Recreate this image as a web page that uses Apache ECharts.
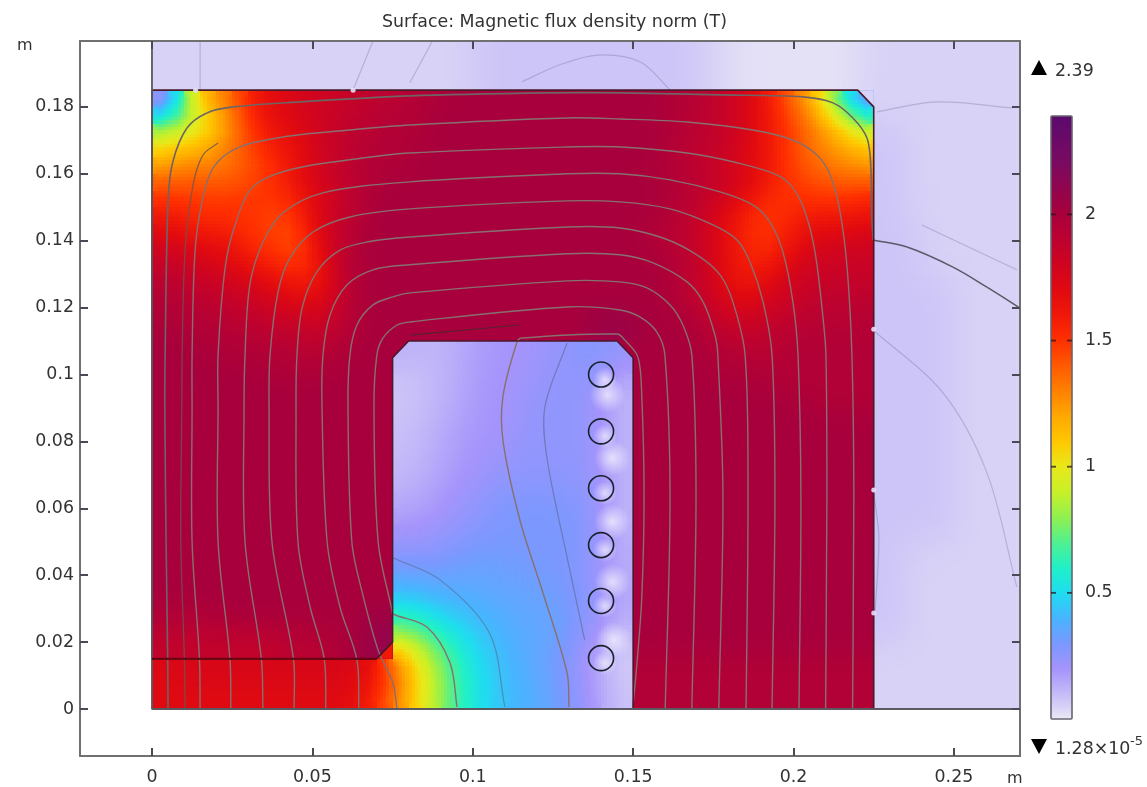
<!DOCTYPE html>
<html><head><meta charset="utf-8"><style>html,body{margin:0;background:#fff}#c{width:1147px;height:787px}</style>
<script src="https://cdn.jsdelivr.net/npm/echarts@6/dist/echarts.min.js"></script></head><body><div id="c"></div><script>
const titleText='Surface: Magnetic flux density norm (T)';
const xTicks=[0,0.05,0.1,0.15,0.2,0.25];
const yTicks=[0,0.02,0.04,0.06,0.08,0.1,0.12,0.14,0.16,0.18];
const barTicks=[0.5,1,1.5,2];
const fieldMax=2.39;
const cellSize=0.005;
// value of each letter in fieldRows (T)
const levelChars='abcdefghijklmnopqrstuvwxyzABCDEFGH';
const levelValues=[.02,.05,.08,.12,.16,.2,.25,.3,.35,.4,.45,.5,.55,.6,.65,.7,.8,.9,1,1.1,1.2,1.3,1.4,1.5,1.6,1.7,1.8,1.85,1.9,1.95,2,2.05,2.1,2.2];
// Field: 5 mm cells, top row first (y 0.195-0.2), x from 0
const fieldRows=[
"bbbbbbbbbbbbbbb bbbbbcccccccccc ccccbbaaaaaaaab bbbbbbbbbb",
"bbbbbbbbbbbbbbb bbbbbcccccccccc ccccbbaaaaaaaab bbbbbbbbbb",
"bbbbbbbbbbbbbbb bbbbbcccccccccc ccccbbaaaaaaaab bbbbbbbbbb",
"citvvxyzzAAABBC CDDEEEEEEEEEEEE EEDDCBAzywutpjd bbbbbbbbbb",
"jnqsuwyzzAABCCD DDEEEEEEEEEEEEE EEDDCBAzyxwusql bbbbbbbbbb",
"rsstuwxyzzABCCD DDEEEEEEEEEEEEE EEDCCBAzyxwvutr ccbbbbbbbb",
"sttuvwxyyzABCDD DEEEEEEEEEEEEEE EEDCCBAzyxwvuut ccbbbbbbbb",
"uvvvvwwxyzABCDD DEEEEEEEEEEEEEE EDDCBAzzyxwwvvu ccbbbbbbbb",
"wwwwwwxxyzABCDE EEEEEEEEEEEEEEE EEDDCBAzyxxwwww ccbbbbbbbb",
"xxxxxxxxxyzACDE EEEEEEEEEEEEEEE EEDCBAzyxxxxxxy ccbbbbbbbb",
"yyxxxxxwxyABCEE EEEEEEEEEEEEEEE EDDCBzyxxxyyyyy ccbbbbbbbb",
"zzyyyxxxwxzBCEE EEEEEEEEEEEEEEE EDCBAzyxxyyzzzA cccbbbbbbb",
"AAzzzyxxwxzBDEE EEEEEEEEEEEEEEE EDDCAzyxxyzAAAA cccbbbbbbb",
"BBAAzzyyxxyBDEE EEEEEEEEEEEEEEE EEDCBzyyyzAAABB cccbbbbbbb",
"CCBBAAzzyyyADEE EEEEEEEEEEEEEEE EEDCAzyyzAABBBB cccccbbbbb",
"DDCCBBAAzzzADEE EEEEEEEEEEEEEEE EEDCBAzzAABCCCC cccccbbbbb",
"DDDDCCBBAAABDEE EEEEEEEEEEEEFFF EEEDCAAABBCCCCD cccccbbbbb",
"EEDDDDCCCBBCDEE EEEEEEEEEEEEFFG EEEEDCBBCCDDDDD cccccbbbbb",
"EEEEDDDDDCCDEEE fdddeeffffgghhg EEEEDDDCCDDDDDD cccccbbbbb",
"EEEEEEEDDDDEEEE ccddeffffggghge EEEEEDDDDDDDDDD cccccbbbbb",
"EEEEEEEEEEEEEEE ccddeffffggggec EEEEEEEEDDDDDDD cccccbbbbb",
"EEEEEEEEEEEEEEE ccddefffgggggec EEEEEEEEEEEDDDD cccccbbbbb",
"EEEEEEEEEEEEEEE ccdeefffgggggec EEEEEEEEEEEEEEE cccccbbbbb",
"EEEEEEEEEEEEEEE cddeffffgggggfc EEEEEEEEEEEEEEE cccccbbbbb",
"EEEEEEEEEEEEEEE cddefffggggggec EEEEEEEEEEEEEEE cccccbbbbb",
"EEEEEEEEEEEEEEE cdeeffgggggggeb EEEEEEEEEEEEEEE cccccbbbbb",
"EEEEEEEEEEEEEEE ddefffgggggggfc EEEEEEEEEEEEEEE cccccbbbbb",
"EEEEEEEEEEEEEEE deefgghhhhhhgfc EEEEEEEEEEEEEEE cccccbbbbb",
"EEEEEEEEEEEEEEE efffgghhhhhhgeb EEEEEEEEEEEEEEE cccccbbbbb",
"EEEEEEEEEEEEEEE fffgghhhhhhhgfc EEEEEEEEEEEEEEE cccccbbbbb",
"EEEEEEEEEEEEEEE ggghhhhhhhhhgfd EEEEEEEEEEEEEEE ccbbbbbbbb",
"EEEEEEEEEEEEEEE hhhhiiihhhhhgec EEEEEEEEEEEEEEE ccbbbbbbbb",
"EEEEEEEEEEEEEEE jjiiiiiiihhhgfd EEEEEEEEEEEEEEE ccbbbbbbbb",
"EEEEEEEEEEEEEEE kkjjjiiiiihhgfd EEEEEEEEEEEEEEE ccbbbbbbbb",
"DDDDEEEEEEEEEFF nmlkkjjiiiihgfc EEEEEEEEEEEEEEE ccbbbbbbbb",
"CCCCCCCCDDDEEFG rqomlkjjiiihgec EEEEEEEEEEEEEEE ccbbbbbbbb",
"BBBBBBBBCCCDEFG trqomkjjiihgeca EEEEEEEEEEEEEEE bbbbbbbbbb",
"zAAAAAAAAAAAAAz vtrpnlkjiihgecb DDDDDDDDDDDDDDD bbbbbbbbbb",
"zzzzzzzzzzzzzyx vtrpnlkjjihgfdb DDDDDDDDDDDDDDD bbbbbbbbbb",
"zzzzzzzzzzzzzyw usrpnlkjjiigfdb DDDDDDDDDDDDDDD bbbbbbbbbb"
].map(r=>r.replace(/ /g,''));
// colour scale (T, colour)
const scaleValues=[0,.05,.1,.2,.3,.4,.5,.6,.7,.8,.9,1,1.1,1.2,1.3,1.4,1.5,1.6,1.7,1.8,1.9,2,2.2,2.39];
const scaleColors=['#ecebf7','#d8d2f6','#c6bcf8','#a594fb','#7b98ff','#48b4ff','#1fdcf0','#20f0c8','#50f090','#90f050','#c8f028','#e8e81a','#ffc800','#ffa800','#ff8000','#ff5a00','#ff3000','#f01808','#e00a10','#cf0420','#bc0230','#a8003c','#7a0a60','#5a0a6e'];
// chamfered corners: triangle x, y, field value
const chamferX=[[.22,.225,.225],[.145,.15,.15],[.075,.08,.075],[.07,.075,.075]];
const chamferY=[[.185,.185,.18],[.11,.11,.105],[.11,.11,.105],[.015,.02,.015]];
const chamferV=[.05,2,2,1.6];
const outline=[[0,.1997],[0,0],[.2706,0]];
const ironEdge=[[0,.185],[.22,.185],[.225,.18],[.225,0],[.15,0],[.15,.105],[.145,.11],[.08,.11],[.075,.105],[.075,.02],[.07,.015],[0,.015]];
// conductors
const coilX=[.14,.14,.14,.14,.14,.14];
const coilY=[.1,.083,.066,.049,.0323,.0152];
const glowX=[.142,.1435,.1435,.1435,.144];
const glowY=[.094,.075,.056,.038,.0206];
const innerGlowX=[.1412,.1412,.1412,.1412,.1412,.1412];
const innerGlowY=[.0985,.0815,.0645,.0475,.0308,.0137];
const edgeDots=[[.0136,.185],[.0627,.185],[.225,.1135],[.225,.0655],[.225,.0287]];
// flux lines
const lineA=[[.005,0],[.0049,.015],[.0044,.05],[.004,.0903],[.0041,.1058],[.005,.1516],[.0065,.1636],[.0109,.1737],[.0171,.1782],[.0252,.18],[.0461,.1815],[.0804,.1833],[.1241,.1842],[.1459,.1842],[.1771,.1836],[.2029,.183],[.2123,.1812],[.2185,.1767],[.2229,.1707],[.2241,.1618],[.2244,.1468],[.2248,.1402]];
const lineAir=[[.2248,.1402],[.2354,.1381],[.2497,.1321],[.2603,.1261],[.27,.1202],[.2716,.119]];
const lineB=[[.0103,0],[.0101,.015],[.009,.05],[.0093,.0903],[.0094,.1058],[.0103,.1366],[.0128,.1566],[.0159,.1656],[.0206,.1692]];
const lineC=[[.015,0],[.0148,.015],[.0125,.05],[.0125,.0903],[.0125,.1058],[.0134,.1366],[.0156,.1516],[.019,.1617],[.0265,.1677],[.0408,.171],[.0617,.1731],[.0804,.1746],[.1294,.1767],[.1459,.1764],[.1668,.1755],[.1873,.1731],[.1998,.1701],[.2073,.1656],[.2114,.1597],[.2145,.1486],[.2167,.1319],[.2182,.1058],[.2188,.0634],[.2184,0]];
const lineD=[[.0246,0],[.0243,.015],[.0206,.05],[.0206,.0903],[.0206,.1058],[.0228,.1319],[.0259,.1447],[.0315,.1561],[.043,.1612],[.0617,.1642],[.0804,.1662],[.1294,.168],[.1459,.168],[.1668,.1662],[.1824,.1633],[.1948,.1597],[.1998,.1558],[.2036,.1486],[.2067,.1366],[.2092,.1169],[.2101,.1058],[.2104,.0634],[.21,0]];
const lineE=[[.0346,0],[.0341,.015],[.029,.05],[.0287,.0903],[.029,.1058],[.0305,.1268],[.0346,.1396],[.0408,.1483],[.0533,.1543],[.0804,.1576],[.1294,.16],[.1459,.16],[.1615,.1582],[.1771,.1546],[.1873,.1507],[.1926,.1456],[.1967,.1366],[.1998,.1217],[.2014,.1058],[.2023,.0634],[.2017,0]];
const lineF=[[.0443,0],[.0441,.015],[.0374,.05],[.0365,.0903],[.0368,.1058],[.0393,.1247],[.043,.1348],[.0502,.1426],[.0617,.1471],[.0804,.1495],[.1294,.1519],[.1459,.1516],[.1615,.1495],[.1749,.1447],[.1824,.1402],[.1864,.1337],[.1905,.1217],[.1933,.1058],[.1942,.0634],[.1933,0]];
const lineG=[[.0542,0],[.0537,.015],[.0493,.0305],[.0455,.05],[.0449,.0903],[.0452,.1058],[.0468,.1199],[.0514,.1307],[.0586,.1372],[.067,.1396],[.0804,.1411],[.1294,.1441],[.1459,.1438],[.1593,.1408],[.17,.1357],[.1771,.1298],[.1811,.1217],[.1849,.1058],[.1858,.0634],[.1852,0]];
const lineH=[[.0645,0],[.0639,.0147],[.0586,.0305],[.0546,.05],[.053,.0903],[.0533,.1058],[.0555,.1178],[.0608,.1268],[.0689,.1313],[.0804,.1328],[.1294,.1361],[.1459,.1358],[.1562,.1334],[.1668,.1277],[.1718,.1217],[.1755,.1118],[.1764,.1058],[.178,.0634],[.1767,0]];
const lineI=[[.0764,0],[.0751,.0078],[.0705,.0176],[.0655,.035],[.0623,.05],[.0611,.0903],[.0617,.1058],[.0639,.1148],[.0689,.1208],[.0751,.1232],[.0804,.1244],[.1294,.128],[.1459,.1277],[.1543,.1259],[.1615,.1208],[.1655,.1148],[.1683,.1058],[.1696,.0634],[.1683,0]];
const lineJ=[[.0951,.0006],[.0929,.0138],[.0857,.0245],[.0751,.0284],[.0748,.0296],[.0705,.05],[.0692,.0903],[.0701,.1058],[.072,.1109],[.0764,.1148],[.0804,.1157],[.1294,.1202],[.1459,.1193],[.1521,.1172],[.1574,.1127],[.1599,.1058],[.1615,.0634],[.16,0]];
const lineK=[[.13,.0006],[.1294,.0108],[.1219,.0347],[.1147,.0565],[.1094,.0804],[.1094,.0933],[.1138,.1097],[.1153,.1109],[.145,.1121],[.1474,.1103],[.1515,.1052],[.1527,.0933],[.1534,.0634],[.1527,.0335],[.1512,.0138],[.1499,.0006]];
const lineL=[[.0805,.1118],[.1147,.1148]];
const faintSlotA=[[.1294,.1094],[.1225,.0903],[.1231,.0753],[.1294,.0454],[.1349,.0206]];
const faintSlotB=[[.0751,.0452],[.0898,.0386],[.1052,.0227],[.11,.0006]];
const airA=[[.015,.1997],[.015,.1851]];
const airB=[[.0689,.1997],[.0627,.1851]];
const airC=[[.0876,.2],[.0804,.1872]];
const airD=[[.1153,.1875],[.1272,.1926],[.139,.1955],[.1521,.1935],[.1615,.1851]];
const airE=[[.226,.1785],[.2447,.1815],[.2684,.1797]];
const airF=[[.24,.1447],[.2696,.1313]];
const airG=[[.2248,.1133],[.2466,.0945],[.2603,.0706],[.2696,.0365]];
const airH=[[.2248,.0655],[.2266,.0514],[.2254,.0287]];
// each flux line with its stroke
const fluxLines=[
  ...[airA,airB,airC,airD,airE,airF,airG,airH].map(p=>({p,c:'rgba(90,90,140,.28)',w:1.2})),
  {p:faintSlotA,c:'rgba(90,90,120,.5)',w:1.2},{p:faintSlotB,c:'rgba(90,90,120,.5)',w:1.2},
  {p:lineA,c:'#6e6464',w:1.6},{p:lineAir,c:'#5a5a66',w:1.5},{p:lineB,c:'rgba(110,85,80,.8)',w:1.3},{p:lineL,c:'#5a2030',w:1.2},
  ...[lineC,lineD,lineE,lineF,lineG,lineH,lineI,lineJ,lineK].map(p=>({p,c:'#87706f',w:1.4}))
];

const nRows=fieldRows.length;
const field=fieldRows.map(r=>r.split('').map(c=>levelValues[levelChars.indexOf(c)]));
const nCols=field[0].length;
const hex=h=>[parseInt(h.slice(1,3),16),parseInt(h.slice(3,5),16),parseInt(h.slice(5,7),16)];
const rgbStops=scaleColors.map(hex);
function colorOf(v){
  let k=0; while(k<scaleValues.length-2&&v>scaleValues[k+1])k++;
  const t=Math.max(0,Math.min(1,(v-scaleValues[k])/(scaleValues[k+1]-scaleValues[k])));
  const a=rgbStops[k],b=rgbStops[k+1];
  return 'rgb('+[0,1,2].map(n=>Math.round(a[n]+(b[n]-a[n])*t)).join(',')+')';
}
function regionOf(i,j){ // j counted from y=0
  if(i>=45||j>=37)return 0;
  if(i<30&&j<3)return 1;
  if(i>=15&&i<30&&j<22)return 1;
  return 2;
}
// display shading only: soften the cell steps inside each material
function soften(src,regions){
  const out=src.map(r=>r.slice());
  for(let r=0;r<nRows;r++)for(let i=0;i<nCols;i++){
    const j=nRows-1-r,reg=regionOf(i,j);
    if(regions.indexOf(reg)<0)continue;
    let s=0,w=0;
    for(let a=-1;a<=1;a++)for(let b=-1;b<=1;b++){
      const ii=i+a,rr=r+b;
      if(ii<0||rr<0||ii>=nCols||rr>=nRows||regionOf(ii,nRows-1-rr)!==reg)continue;
      const wt=(2-Math.abs(a))*(2-Math.abs(b));
      s+=src[rr][ii]*wt;w+=wt;
    }
    out[r][i]=s/w;
  }
  return out;
}
const shade=soften(soften(field,[0,1,2]),[0,1]);
function cellVal(i,j){return shade[nRows-1-j][i];}
function nb(i,j,ci,cj){
  if(i<0||j<0||j>=nRows||i>=nCols||regionOf(i,j)!==regionOf(ci,cj))return cellVal(ci,cj);
  return cellVal(i,j);
}
const cells=[];
field.forEach((row,r)=>row.forEach((v,i)=>{const j=nRows-1-r;cells.push([(i+.5)*cellSize,(j+.5)*cellSize,v,i,j]);}));
const SUB=5;
function renderCell(params,api){
  const i=api.value(3),j=api.value(4),c=cellVal(i,j);
  const x0=i*cellSize,y0=j*cellSize;
  const n=[];
  for(let a=-1;a<=1;a++){n.push([]);for(let b=-1;b<=1;b++)n[a+1].push(nb(i+a,j+b,i,j));}
  const flat=n.every(q=>q.every(v=>Math.abs(v-c)<0.002));
  const children=[];
  const pts=t=>{const p=api.coord([t[0],t[1]]);return [Math.round(p[0]),Math.round(p[1])];};
  if(flat){
    const p=pts([x0,y0+cellSize]),q=pts([x0+cellSize,y0]);
    return {type:'rect',shape:{x:p[0],y:p[1],width:q[0]-p[0],height:q[1]-p[1]},style:{fill:colorOf(c)},silent:true};
  }
  for(let a=0;a<SUB;a++)for(let b=0;b<SUB;b++){
    const u=(a+.5)/SUB,w=(b+.5)/SUB;
    const sx=u<.5?-1:1,sy=w<.5?-1:1,tx=Math.abs(u-.5),ty=Math.abs(w-.5);
    const v=c*(1-tx)*(1-ty)+n[1+sx][1]*tx*(1-ty)+n[1][1+sy]*(1-tx)*ty+n[1+sx][1+sy]*tx*ty;
    const p=pts([x0+a/SUB*cellSize,y0+(b+1)/SUB*cellSize]),q=pts([x0+(a+1)/SUB*cellSize,y0+b/SUB*cellSize]);
    children.push({type:'rect',shape:{x:p[0],y:p[1],width:q[0]-p[0],height:q[1]-p[1]},style:{fill:colorOf(v)},silent:true});
  }
  return {type:'group',children};
}
// flux line: curve through the read points, placed with the axis scales
function renderFlux(params,api){
  const L=fluxLines[api.value(2)];
  const P=L.p.map(q=>api.coord(q));
  const kids=[];
  const tan=k=>{
    const a=P[Math.max(k-1,0)],b=P[Math.min(k+1,P.length-1)],p=P[k];
    const d1=Math.hypot(p[0]-a[0],p[1]-a[1]),d2=Math.hypot(b[0]-p[0],b[1]-p[1]),s=d1+d2||1;
    return [(b[0]-a[0])/s,(b[1]-a[1])/s];
  };
  for(let k=0;k<P.length-1;k++){
    const a=P[k],b=P[k+1],d=Math.hypot(b[0]-a[0],b[1]-a[1])/3,t0=tan(k),t1=tan(k+1);
    kids.push({type:'bezierCurve',silent:true,shape:{x1:a[0],y1:a[1],x2:b[0],y2:b[1],cpx1:a[0]+t0[0]*d,cpy1:a[1]+t0[1]*d,cpx2:b[0]-t1[0]*d,cpy2:b[1]-t1[1]*d},
      style:{fill:'none',stroke:L.c,lineWidth:L.w}});
  }
  return {type:'group',children:kids};
}
const FONT='"DejaVu Sans"';
const FS=17.4;
const axisBase={type:'value',z:10,splitLine:{show:false},axisLine:{show:true,onZero:false,lineStyle:{color:'#707070',width:2}}};
const tickStyle=(vals,len)=>({show:true,inside:true,length:len,customValues:vals,lineStyle:{color:'#4a4a55',width:2}});
const fmt=v=>String(+(+v).toFixed(2));
const lbl=(vals,margin,pad)=>({show:true,customValues:vals,formatter:fmt,color:'#333',fontFamily:FONT,fontSize:FS,margin,padding:pad||0});
const edgeSeries=(data,color,width)=>({type:'line',data,xAxisIndex:0,yAxisIndex:0,symbol:'none',silent:true,z:4,lineStyle:{color,width}});
const glow=(xs,ys,size,alpha)=>({type:'scatter',xAxisIndex:0,yAxisIndex:0,silent:true,z:3,symbolSize:size,
  data:xs.map((x,k)=>[x,ys[k]]),
  itemStyle:{opacity:1,color:{type:'radial',x:.5,y:.5,r:.5,colorStops:[{offset:0,color:'rgba(245,244,252,'+alpha+')'},{offset:1,color:'rgba(245,244,252,0)'}]}}});
const chart=echarts.init(document.getElementById('c'),null,{renderer:'canvas'});
chart.setOption({
  animation:false,backgroundColor:'#fff',
  title:{text:titleText,left:549.5,top:9,textAlign:'center',textStyle:{fontFamily:FONT,fontSize:FS,fontWeight:'normal',color:'#333'}},
  grid:[{left:80,top:41,width:940,height:715,show:false},{left:1051,top:116,width:21,height:603,show:false}],
  xAxis:[
    Object.assign({},axisBase,{gridIndex:0,position:'bottom',min:-0.02244,max:0.2706,axisTick:tickStyle(xTicks,8),axisLabel:lbl(xTicks,13)}),
    Object.assign({},axisBase,{gridIndex:0,position:'top',min:-0.02244,max:0.2706,axisTick:tickStyle(xTicks,8),axisLabel:{show:false}}),
    {type:'value',gridIndex:1,min:0,max:1,show:false}
  ],
  yAxis:[
    Object.assign({},axisBase,{gridIndex:0,position:'left',min:-0.01405,max:0.1997,axisTick:tickStyle(yTicks,8),axisLabel:lbl(yTicks,6,[3,0,0,0])}),
    Object.assign({},axisBase,{gridIndex:0,position:'right',min:-0.01405,max:0.1997,axisTick:tickStyle(yTicks,8),axisLabel:{show:false}}),
    {type:'value',z:10,gridIndex:1,position:'right',min:0,max:fieldMax,splitLine:{show:false},axisLine:{show:false},
      axisTick:{show:false},
      axisLabel:{show:true,customValues:barTicks,formatter:fmt,color:'#333',fontFamily:FONT,fontSize:FS,margin:13,padding:[3,0,0,0]}}
  ],
  series:[
    {type:'custom',name:'field',xAxisIndex:0,yAxisIndex:0,clip:true,silent:true,z:1,data:cells,encode:{x:0,y:1},renderItem:renderCell},
    {type:'custom',name:'chamfers',xAxisIndex:0,yAxisIndex:0,clip:true,silent:true,z:2,data:chamferV.map((v,k)=>[chamferX[k][0],chamferY[k][0],v,k]),encode:{x:0,y:1},
      renderItem(p,api){const k=api.value(3);return {type:'polygon',shape:{points:chamferX[k].map((x,n)=>api.coord([x,chamferY[k][n]]))},style:{fill:colorOf(api.value(2))},silent:true};}},
    glow(glowX,glowY,36,.75),
    glow(innerGlowX,innerGlowY,24,.7),
    edgeSeries(ironEdge.concat([ironEdge[0]]),'#4a1a2a',1.6),
    edgeSeries(outline,'#5a5a60',1.8),
    edgeSeries([[0,.015],[.07,.015]],'#6a0012',2),
    {type:'custom',name:'flux lines',xAxisIndex:0,yAxisIndex:0,clip:true,silent:true,z:4,
      data:fluxLines.map((L,k)=>[L.p[0][0],L.p[0][1],k]),encode:{x:0,y:1},renderItem:renderFlux},
    {type:'scatter',xAxisIndex:0,yAxisIndex:0,silent:true,z:5,symbolSize:5,data:edgeDots,itemStyle:{color:'#e4e0f8',opacity:.9}},
    {type:'scatter',xAxisIndex:0,yAxisIndex:0,silent:true,z:6,symbolSize:25,data:coilX.map((x,k)=>[x,coilY[k]]),
      itemStyle:{color:'rgba(0,0,0,0)',borderColor:'#18222e',borderWidth:1.6,opacity:1}},
    {type:'custom',name:'colour bar',xAxisIndex:2,yAxisIndex:2,clip:false,silent:true,z:3,data:[[0,0]],
      renderItem(p,api){const a=api.coord([0,fieldMax]),b=api.coord([1,0]);
        const kids=[{type:'rect',shape:{x:a[0],y:a[1],width:b[0]-a[0],height:b[1]-a[1],r:1},
          style:{stroke:'#6a6470',lineWidth:1.6,fill:new echarts.graphic.LinearGradient(0,0,0,1,scaleValues.map((v,k)=>({offset:1-v/fieldMax,color:scaleColors[k]})).reverse())}}];
        barTicks.forEach(t=>{const q=api.coord([0,t]);const r=api.coord([1,t]);
          kids.push({type:'line',shape:{x1:q[0],y1:q[1],x2:q[0]+5,y2:q[1]},style:{stroke:'rgba(40,20,30,.75)',lineWidth:1.8}});
          kids.push({type:'line',shape:{x1:r[0]-5,y1:r[1],x2:r[0],y2:r[1]},style:{stroke:'rgba(40,20,30,.75)',lineWidth:1.8}});});
        return {type:'group',children:kids};}}
  ],
  graphic:[
    {type:'text',left:17,top:38,style:{text:'m',fontFamily:FONT,fontSize:16,fill:'#333'}},
    {type:'text',left:1007,top:771,style:{text:'m',fontFamily:FONT,fontSize:16,fill:'#333'}},
    {type:'polygon',shape:{points:[[1031,75],[1047,75],[1039,60]]},style:{fill:'#000'}},
    {type:'text',left:1055,top:63,style:{text:'2.39',fontFamily:FONT,fontSize:FS,fill:'#333'}},
    {type:'polygon',shape:{points:[[1031,739],[1047,739],[1039,754]]},style:{fill:'#000'}},
    {type:'text',left:1055,top:741,style:{text:'1.28×10',fontFamily:FONT,fontSize:FS,fill:'#333'}},
    {type:'text',left:1130,top:735,style:{text:'-5',fontFamily:FONT,fontSize:13,fill:'#333'}}
  ]
});
</script></body></html>
